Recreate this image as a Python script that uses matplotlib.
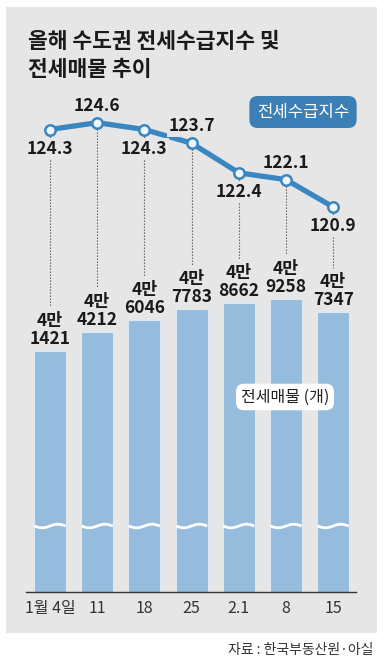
import numpy as np
import matplotlib.pyplot as plt
from matplotlib.patches import Rectangle

plt.rcParams['font.family'] = ['Noto Sans CJK KR', 'DejaVu Sans']

# data
dates = ['1월 4일', '11', '18', '25', '2.1', '8', '15']
listings = [41421, 44212, 46046, 47783, 48662, 49258, 47347]
index_vals = [124.3, 124.6, 124.3, 123.7, 122.4, 122.1, 120.9]
label_above = [False, True, False, True, False, True, False]

bar_color = '#95bcdd'
line_color = '#3a86c0'
panel_color = '#e6e6e6'

fig = plt.figure(figsize=(3.84, 6.69), dpi=100)
fig.patch.set_facecolor('white')

# grey panel
fig.patches.append(Rectangle((6 / 384, 1 - 633 / 669), 371 / 384, 626 / 669,
                             transform=fig.transFigure, facecolor=panel_color,
                             edgecolor='none', zorder=-5))

# title
fig.text(28 / 384, 1 - 41 / 669, '올해 수도권 전세수급지수 및', fontsize=15.5,
         fontweight='bold', color='#1a1a1a', va='center', ha='left')
fig.text(28 / 384, 1 - 70 / 669, '전세매물 추이', fontsize=15.5,
         fontweight='bold', color='#1a1a1a', va='center', ha='left')

ax = fig.add_axes([26 / 384, 1 - 592 / 669, 330 / 384, 492 / 669])
ax.set_facecolor('none')
x = np.arange(len(dates))
bar_lo, bar_hi = 5100, 79250
ax.set_xlim(-0.508, 6.483)
ax.set_ylim(bar_lo, bar_hi)

# broken axis: bars start below the visible bottom and get clipped
ax.bar(x, listings, width=0.68, color=bar_color, edgecolor='#dce8f3',
       linewidth=0.8, zorder=2)

# wavy break across bars
wave_y = bar_lo + (592 - 526) / 492 * (bar_hi - bar_lo)
amp = 1.8 / 492 * (bar_hi - bar_lo)
for xi in x:
    xs = np.linspace(xi - 0.33, xi + 0.33, 60)
    ys = wave_y + amp * np.sin((xs - xi) / 0.66 * 2 * np.pi)
    ax.plot(xs, ys, color='white', lw=2, zorder=3, solid_capstyle='butt')

# bar labels
for xi, v in zip(x, listings):
    man = v // 10000
    rest = v % 10000
    ax.annotate(f'{man}만\n{rest}', (xi, v), xytext=(0, 3),
                textcoords='offset pixels', ha='center', va='bottom',
                fontsize=12.5, fontweight='bold', color='#1a1a1a',
                linespacing=1.0, zorder=5)

for s in ['top', 'left', 'right']:
    ax.spines[s].set_visible(False)
ax.spines['bottom'].set_color('#333333')
ax.spines['bottom'].set_linewidth(1.0)
ax.spines['bottom'].set_zorder(4)
ax.set_yticks([])
ax.set_xticks(x)
ax.set_xticklabels(dates, fontsize=11.5, color='#333333')
ax.tick_params(axis='x', length=0, pad=6)

# line axis
ax2 = ax.twinx()
lo2, hi2 = 104.015, 125.594
ax2.set_ylim(lo2, hi2)
ax2.set_yticks([])
for s in ax2.spines.values():
    s.set_visible(False)

# dotted guides from markers down to bar labels
for xi, iv, bv in zip(x, index_vals, listings):
    top_px = 592 - (bv - bar_lo) / (bar_hi - bar_lo) * 492 - 44
    end_v = lo2 + (592 - top_px) / 492 * (hi2 - lo2)
    ax2.plot([xi, xi], [iv, end_v], color='#555555', lw=0.8,
             linestyle=(0, (1.2, 1.5)), zorder=1)

ax2.plot(x, index_vals, color=line_color, lw=3.8, zorder=4,
         marker='o', markersize=7.5, markerfacecolor='#eef6fc',
         markeredgecolor=line_color, markeredgewidth=1.8)

for xi, iv, up in zip(x, index_vals, label_above):
    off = 17 if up else -19
    ax2.annotate(f'{iv}', (xi, iv), xytext=(0, off), textcoords='offset pixels',
                 ha='center', va='center', fontsize=12.5, fontweight='bold',
                 color='#1a1a1a', zorder=6,
                 bbox=dict(boxstyle='square,pad=0.1', facecolor=panel_color,
                           edgecolor='none'))

# legend-like boxes
fig.text(303 / 384, 1 - 112 / 669, '전세수급지수', fontsize=12, color='white',
         ha='center', va='center',
         bbox=dict(boxstyle='round,pad=0.45,rounding_size=0.5',
                   facecolor='#3b7fb6', edgecolor='none'))
fig.text(285 / 384, 1 - 397 / 669, '전세매물 (개)', fontsize=11.5,
         color='#222222', ha='center', va='center',
         bbox=dict(boxstyle='round,pad=0.3,rounding_size=0.5',
                   facecolor='white', edgecolor='none'))

# source
fig.text(373 / 384, 1 - 650 / 669, '자료 : 한국부동산원·아실', fontsize=10,
         color='#333333', ha='right', va='center')

fig.savefig('out.png', dpi=100)
